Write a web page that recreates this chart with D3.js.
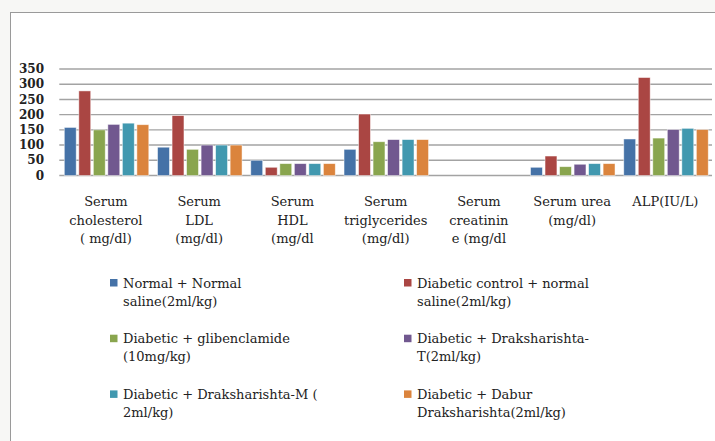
<!DOCTYPE html>
<html>
<head>
<meta charset="utf-8">
<script src="https://cdn.jsdelivr.net/npm/d3@7"></script>
<style>
body { margin: 0; background: #f7f7f5; }
svg { display: block; }
</style>
</head>
<body>
<div id="chart"></div>
<script>
var categories = [
	["Serum", "cholesterol", "( mg/dl)"],
	["Serum", "LDL", "(mg/dl)"],
	["Serum", "HDL", "(mg/dl"],
	["Serum", "triglycerides", "(mg/dl)"],
	["Serum", "creatinin", "e (mg/dl"],
	["Serum urea", "(mg/dl)"],
	["ALP(IU/L)"]
];

var seriesNames = [
	["Normal + Normal", "saline(2ml/kg)"],
	["Diabetic control + normal", "saline(2ml/kg)"],
	["Diabetic + glibenclamide", "(10mg/kg)"],
	["Diabetic + Draksharishta-", "T(2ml/kg)"],
	["Diabetic + Draksharishta-M (", "2ml/kg)"],
	["Diabetic + Dabur", "Draksharishta(2ml/kg)"]
];

var normalSaline    = [158,  93, 50,  86, 0, 27, 120];
var diabeticControl = [278, 197, 27, 202, 0, 64, 322];
var glibenclamide   = [150,  86, 39, 111, 0, 29, 123];
var drakshaT        = [168, 100, 39, 118, 0, 37, 151];
var drakshaM        = [172, 100, 39, 118, 0, 39, 155];
var daburDraksha    = [167, 100, 39, 118, 0, 39, 151];

var yTicks = [0, 50, 100, 150, 200, 250, 300, 350];

var colors = ["#4572a7", "#aa4643", "#89a54e", "#71588f", "#4198af", "#db843d"];

var series = [normalSaline, diabeticControl, glibenclamide, drakshaT, drakshaM, daburDraksha];

var width = 715;
var height = 441;

var svg = d3.select("#chart")
			.append("svg")
			.attr("width", width)
			.attr("height", height);

// white panel with grey border
svg.append("rect")
	.attr("x", 10.5)
	.attr("y", 12.5)
	.attr("width", width + 10)
	.attr("height", height + 10)
	.attr("fill", "#fff")
	.attr("stroke", "#9a9a9a")
	.attr("stroke-width", 1);

var x = d3.scaleBand()
		  .domain(d3.range(categories.length))
		  .range([59.3, 712]);

var xInner = d3.scaleBand()
			   .domain(d3.range(series.length))
			   .range([5, 89.5])
			   .paddingInner(0.18);

var y = d3.scaleLinear()
		  .domain([0, 350])
		  .range([175.5, 69]);

// gridlines
svg.append("g")
	.selectAll("line")
	.data(yTicks)
	.enter()
	.append("line")
	.attr("x1", 59.3)
	.attr("x2", 712)
	.attr("y1", function (d) { return y(d); })
	.attr("y2", function (d) { return y(d); })
	.attr("stroke", "#a3a3a3")
	.attr("stroke-width", 1.4);

// y tick labels
svg.append("g")
	.selectAll("text")
	.data(yTicks)
	.enter()
	.append("text")
	.attr("x", 44)
	.attr("y", function (d) { return y(d); })
	.attr("dy", "0.35em")
	.attr("text-anchor", "end")
	.style("font-family", "'DejaVu Serif', serif")
	.style("font-weight", "bold")
	.style("font-size", "12px")
	.attr("fill", "#222")
	.text(function (d) { return d; });

// bars
var groups = svg.append("g")
				.selectAll("g")
				.data(series)
				.enter()
				.append("g")
				.attr("fill", function (d, i) { return colors[i]; });

groups.selectAll("rect")
	.data(function (d, i) { return d.map(function (v, c) { return { s: i, c: c, v: v }; }); })
	.enter()
	.filter(function (d) { return d.v > 0; })
	.append("rect")
	.attr("x", function (d) { return x(d.c) + xInner(d.s); })
	.attr("y", function (d) { return y(d.v); })
	.attr("width", xInner.bandwidth())
	.attr("height", function (d) { return y(0) - y(d.v); })
	.attr("stroke", "#fff")
	.attr("stroke-opacity", 0.6)
	.attr("stroke-width", 0.8);

// category labels
var catLabels = svg.append("g")
				   .selectAll("text")
				   .data(categories)
				   .enter()
				   .append("text")
				   .attr("text-anchor", "middle")
				   .style("font-family", "'DejaVu Serif', serif")
				   .style("font-size", "13px")
				   .attr("fill", "#222");

catLabels.selectAll("tspan")
	.data(function (d, i) { return d.map(function (t) { return { t: t, c: i }; }); })
	.enter()
	.append("tspan")
	.attr("x", function (d) { return x(d.c) + x.bandwidth() / 2; })
	.attr("y", function (d, j) { return 206 + j * 18.5; })
	.text(function (d) { return d.t; });

// legend
var legend = svg.append("g")
				.selectAll("g")
				.data(seriesNames)
				.enter()
				.append("g")
				.attr("transform", function (d, i) {
					return "translate(" + (110 + (i % 2) * 294) + "," + (279 + Math.floor(i / 2) * 55.7) + ")";
				});

legend.append("rect")
	.attr("width", 7.5)
	.attr("height", 7.5)
	.attr("fill", function (d, i) { return colors[i]; });

legend.append("text")
	.style("font-family", "'DejaVu Serif', serif")
	.style("font-size", "13px")
	.attr("fill", "#222")
	.selectAll("tspan")
	.data(function (d) { return d; })
	.enter()
	.append("tspan")
	.attr("x", 13)
	.attr("y", function (d, j) { return 8.5 + j * 18; })
	.text(function (d) { return d; });
</script>
</body>
</html>
